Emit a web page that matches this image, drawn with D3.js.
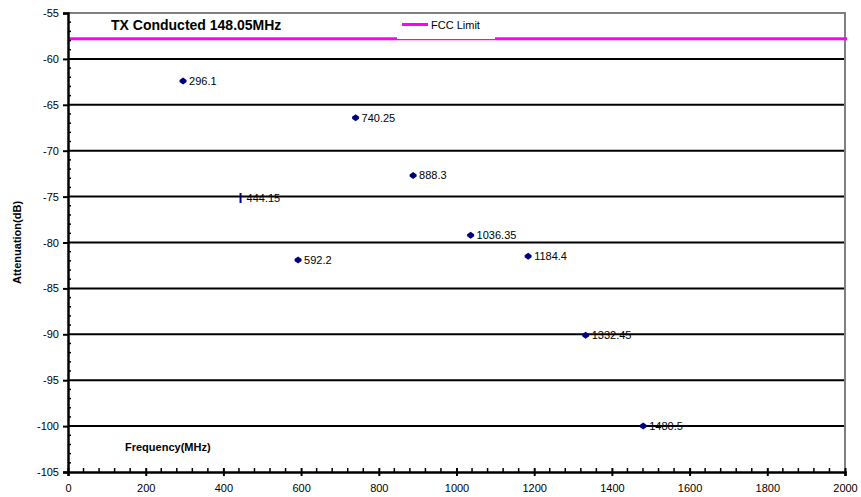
<!DOCTYPE html>
<html><head><meta charset="utf-8">
<script src="https://cdn.jsdelivr.net/npm/d3@7"></script>
<style>body{margin:0;background:#fff}svg{display:block;font-family:"Liberation Sans",Arial,sans-serif}</style>
</head><body><svg id="c" width="861" height="497"></svg>
<script>
const freqs = [296.1, 444.15, 592.2, 740.25, 888.3, 1036.35, 1184.4, 1332.45, 1480.5];
const attenuation = [-62.4, -75.15, -81.9, -66.4, -72.7, -79.2, -81.5, -90.1, -100.0];
const pointLabels = ["296.1", "444.15", "592.2", "740.25", "888.3", "1036.35", "1184.4", "1332.45", "1480.5"];
const limitValue = -57.8;
const xTicks = [0, 200, 400, 600, 800, 1000, 1200, 1400, 1600, 1800, 2000];
const yTicks = [-55, -60, -65, -70, -75, -80, -85, -90, -95, -100, -105];

const svg = d3.select("#c");
const L = 68, R = 845, T = 13, B = 472;
const x = d3.scaleLinear().domain([0, 2000]).range([L, R]);
const y = d3.scaleLinear().domain([-105, -55]).range([B, T]);

// gridlines
svg.append("g").selectAll("line").data(yTicks.filter(v => v > -105 && v < -55)).join("line")
  .attr("x1", L).attr("x2", R).attr("y1", d => y(d)).attr("y2", d => y(d))
  .attr("stroke", "#000").attr("stroke-width", 2);

// border top/right gray
svg.append("path").attr("d", `M${L},${T}H${R}V${B}`).attr("fill", "none").attr("stroke", "#808080").attr("stroke-width", 2);

// limit line
svg.append("line").attr("x1", L).attr("x2", R + 2).attr("y1", y(limitValue)).attr("y2", y(limitValue))
  .attr("stroke", "#ff00ff").attr("stroke-width", 3);

// y axis
const yAxis = svg.append("g").attr("transform", `translate(${L},0)`)
  .call(d3.axisLeft(y).tickValues(yTicks).tickSize(5).tickPadding(4).tickFormat(d => String(d)));
yAxis.select(".domain").attr("stroke", "#000").attr("stroke-width", 2.5);
yAxis.selectAll(".tick line").attr("stroke", "#000").attr("stroke-width", 2);
yAxis.selectAll("text").attr("font-size", 11).attr("fill", "#000").attr("font-family", "Liberation Sans, Arial");
// y minor ticks (inside)
svg.append("g").selectAll("line").data(d3.range(-104, -55, 1).filter(v => v % 5 !== 0)).join("line")
  .attr("x1", L).attr("x2", L + 3).attr("y1", d => y(d)).attr("y2", d => y(d))
  .attr("stroke", "#000").attr("stroke-width", 1.5);

// x axis
const xAxis = svg.append("g").attr("transform", `translate(0,${B})`)
  .call(d3.axisBottom(x).tickValues(xTicks).tickSize(4).tickPadding(8).tickFormat(d => String(d)));
xAxis.select(".domain").attr("stroke", "#000").attr("stroke-width", 2.5);
xAxis.selectAll(".tick line").attr("stroke", "#000").attr("stroke-width", 2).attr("y1", -4);
xAxis.selectAll("text").attr("font-size", 11).attr("fill", "#000").attr("font-family", "Liberation Sans, Arial");
svg.append("g").selectAll("line").data(d3.range(40, 2000, 40).filter(v => v % 200 !== 0)).join("line")
  .attr("x1", d => x(d)).attr("x2", d => x(d)).attr("y1", B).attr("y2", B - 4)
  .attr("stroke", "#000").attr("stroke-width", 1.5);

// points
const pts = svg.append("g");
freqs.forEach((f, i) => {
  const px = x(f), py = y(attenuation[i]);
  if (i === 1) {
    pts.append("line").attr("x1", px).attr("x2", px).attr("y1", py - 5).attr("y2", py + 5)
      .attr("stroke", "#000080").attr("stroke-width", 2);
  } else {
    pts.append("path").attr("d", "M0,-3.5L3.5,-1L3.5,1L0,3.5L-3.5,1L-3.5,-1Z")
      .attr("transform", `translate(${px},${py})`).attr("fill", "#000080");
  }
  pts.append("text").attr("x", px + 6).attr("y", py + 4).attr("font-size", 11).attr("fill", "#000")
    .text(pointLabels[i]);
});

// title
svg.append("text").attr("x", 111).attr("y", 30).attr("font-size", 14).attr("font-weight", "bold")
  .attr("fill", "#000").text("TX Conducted 148.05MHz");

// legend
svg.append("rect").attr("x", 397).attr("y", 14).attr("width", 98).attr("height", 25).attr("fill", "#fff");
svg.append("line").attr("x1", 402).attr("x2", 428).attr("y1", 24.5).attr("y2", 24.5)
  .attr("stroke", "#ff00ff").attr("stroke-width", 3);
svg.append("text").attr("x", 431).attr("y", 29).attr("font-size", 11).attr("fill", "#000").text("FCC Limit");

// axis titles
svg.append("text").attr("x", 125).attr("y", 451).attr("font-size", 11).attr("font-weight", "bold")
  .attr("fill", "#000").text("Frequency(MHz)");
svg.append("text").attr("transform", `translate(21,${(T + B) / 2}) rotate(-90)`).attr("text-anchor", "middle")
  .attr("font-size", 11).attr("font-weight", "bold").attr("fill", "#000").text("Attenuation(dB)");
</script></body></html>
